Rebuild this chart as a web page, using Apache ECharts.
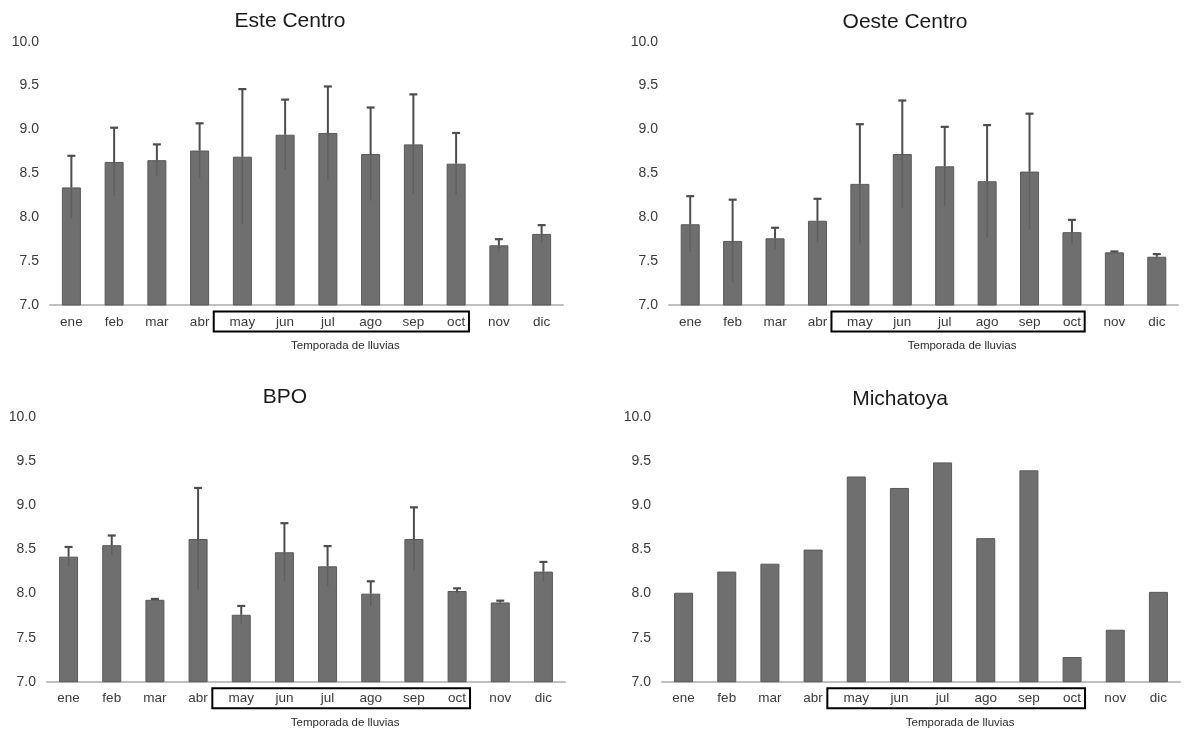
<!DOCTYPE html>
<html>
<head>
<meta charset="utf-8">
<script src="https://cdn.jsdelivr.net/npm/echarts@6/dist/echarts.min.js"></script>
<style>
  html, body { margin: 0; padding: 0; background: #ffffff; }
  #chart { width: 1184px; height: 729px; }
</style>
</head>
<body>
<div id="chart"></div>
<script>
// Monthly means (bars) and standard deviations (whiskers) per site
const months = ['ene', 'feb', 'mar', 'abr', 'may', 'jun', 'jul', 'ago', 'sep', 'oct', 'nov', 'dic'];
const rainyFirst = 'may';
const rainyLast = 'oct';
const seasonLabel = 'Temporada de lluvias';

const yMin = 7.0;
const yMax = 10.0;
const yStep = 0.5;

const esteCentroMean = [8.34, 8.63, 8.65, 8.76, 8.69, 8.94, 8.96, 8.72, 8.83, 8.61, 7.68, 7.81];
const esteCentroSd   = [0.36, 0.39, 0.18, 0.31, 0.77, 0.40, 0.53, 0.53, 0.57, 0.35, 0.07, 0.10];

const oesteCentroMean = [7.92, 7.73, 7.76, 7.96, 8.38, 8.72, 8.58, 8.41, 8.52, 7.83, 7.60, 7.55];
const oesteCentroSd   = [0.32, 0.47, 0.12, 0.25, 0.68, 0.61, 0.45, 0.64, 0.66, 0.14, 0.01, 0.03];

const bpoMean = [8.42, 8.55, 7.93, 8.62, 7.76, 8.47, 8.31, 8.00, 8.62, 8.03, 7.90, 8.25];
const bpoSd   = [0.11, 0.11, 0.01, 0.58, 0.10, 0.33, 0.23, 0.14, 0.36, 0.03, 0.02, 0.11];

const michatoyaMean = [8.01, 8.25, 8.34, 8.50, 9.33, 9.20, 9.49, 8.63, 9.40, 7.28, 7.59, 8.02];
const michatoyaSd   = null;

const panels = [
  { title: 'Este Centro',  mean: esteCentroMean,  sd: esteCentroSd },
  { title: 'Oeste Centro', mean: oesteCentroMean, sd: oesteCentroSd },
  { title: 'BPO',          mean: bpoMean,         sd: bpoSd },
  { title: 'Michatoya',    mean: michatoyaMean,   sd: michatoyaSd }
];

// Panel placement (plot area boxes and title anchors)
const layout = [
  { left: 50,  top: 41.7,  width: 513, height: 263.3, titleX: 290, titleY: 21 },
  { left: 669, top: 41.7,  width: 509, height: 263.3, titleX: 905, titleY: 22 },
  { left: 47,  top: 417.5, width: 518, height: 264.2, titleX: 285, titleY: 397 },
  { left: 662, top: 417.5, width: 518, height: 264.2, titleX: 900, titleY: 399 }
];

const FONT = "'Liberation Sans', Arial, sans-serif";
const BAR_FILL = '#6f6f6f';
const BAR_EDGE = '#595959';
const ERR_COLOR = '#4d4d4d';
const AXIS_COLOR = '#c0c0c0';
const TEXT_COLOR = '#3a3a3a';

const chart = echarts.init(document.getElementById('chart'), null, { renderer: 'canvas' });

function errorBarRenderer(params, api) {
  const sd = api.value(2);
  if (!(sd > 0)) return null;
  const idx = api.value(0);
  const m = api.value(1);
  const top = api.coord([idx, m + sd]);
  const mid = api.coord([idx, m]);
  const bot = api.coord([idx, m - sd]);
  const cap = 4;
  return {
    type: 'group',
    children: [
      // lower whisker, only faintly visible over the bar
      { type: 'line', shape: { x1: mid[0], y1: mid[1], x2: bot[0], y2: bot[1] },
        style: { stroke: 'rgba(60,60,60,0.3)', lineWidth: 1.5 } },
      // upper whisker with cap
      { type: 'line', shape: { x1: mid[0], y1: mid[1], x2: top[0], y2: top[1] },
        style: { stroke: ERR_COLOR, lineWidth: 2 } },
      { type: 'line', shape: { x1: top[0] - cap, y1: top[1], x2: top[0] + cap, y2: top[1] },
        style: { stroke: ERR_COLOR, lineWidth: 2.2 } }
    ]
  };
}

const grid = [], xAxis = [], yAxis = [], series = [];

panels.forEach((p, i) => {
  const L = layout[i];
  grid.push({ left: L.left, top: L.top, width: L.width, height: L.height, containLabel: false });
  xAxis.push({
    type: 'category', gridIndex: i, data: months,
    axisLine: { show: true, lineStyle: { color: AXIS_COLOR, width: 2 } },
    axisTick: { show: false },
    axisLabel: { margin: 10, fontFamily: FONT, fontSize: 13.5, color: TEXT_COLOR, interval: 0 },
    splitLine: { show: false }
  });
  yAxis.push({
    type: 'value', gridIndex: i, min: yMin, max: yMax, interval: yStep,
    axisLine: { show: false }, axisTick: { show: false },
    splitLine: { show: false },
    axisLabel: { margin: 11, fontFamily: FONT, fontSize: 14, color: TEXT_COLOR,
                 formatter: v => v.toFixed(1) }
  });
  series.push({
    type: 'bar', xAxisIndex: i, yAxisIndex: i, data: p.mean,
    barWidth: 19,
    itemStyle: { color: BAR_FILL, borderColor: BAR_EDGE, borderWidth: 1 },
    silent: true, animation: false
  });
  if (p.sd) {
    series.push({
      type: 'custom', xAxisIndex: i, yAxisIndex: i, z: 5,
      data: p.mean.map((m, k) => [k, m, p.sd[k]]),
      encode: { x: 0, y: 1 },
      renderItem: errorBarRenderer,
      silent: true, animation: false
    });
  }
});

chart.setOption({
  animation: false,
  backgroundColor: '#ffffff',
  grid, xAxis, yAxis, series
});

// Titles, rainy-season brackets and their captions, positioned from the axes
function buildOverlay() {
  const elements = [];
  panels.forEach((p, i) => {
    const L = layout[i];
    elements.push({
      type: 'text', x: L.titleX, y: L.titleY, silent: true,
      style: { text: p.title, fill: '#1a1a1a', font: '21px ' + FONT,
               textAlign: 'center', textVerticalAlign: 'middle' }
    });
    const c0 = chart.convertToPixel({ xAxisIndex: i }, months[0]);
    const c1 = chart.convertToPixel({ xAxisIndex: i }, months[1]);
    const step = c1 - c0;
    const first = chart.convertToPixel({ xAxisIndex: i }, rainyFirst);
    const last = chart.convertToPixel({ xAxisIndex: i }, rainyLast);
    const base = chart.convertToPixel({ yAxisIndex: i }, yMin);
    const x1 = first - 0.67 * step;
    const x2 = last + 0.3 * step;
    elements.push({
      type: 'rect', silent: true,
      shape: { x: x1, y: base + 6.5, width: x2 - x1, height: 20 },
      style: { fill: 'none', stroke: '#000000', lineWidth: 2 }
    });
    elements.push({
      type: 'text', x: (x1 + x2) / 2 + 4, y: base + 41, silent: true,
      style: { text: seasonLabel, fill: '#2a2a2a', font: '11.5px ' + FONT,
               textAlign: 'center', textVerticalAlign: 'middle' }
    });
  });
  chart.setOption({ graphic: { elements } });
}
buildOverlay();
</script>
</body>
</html>
